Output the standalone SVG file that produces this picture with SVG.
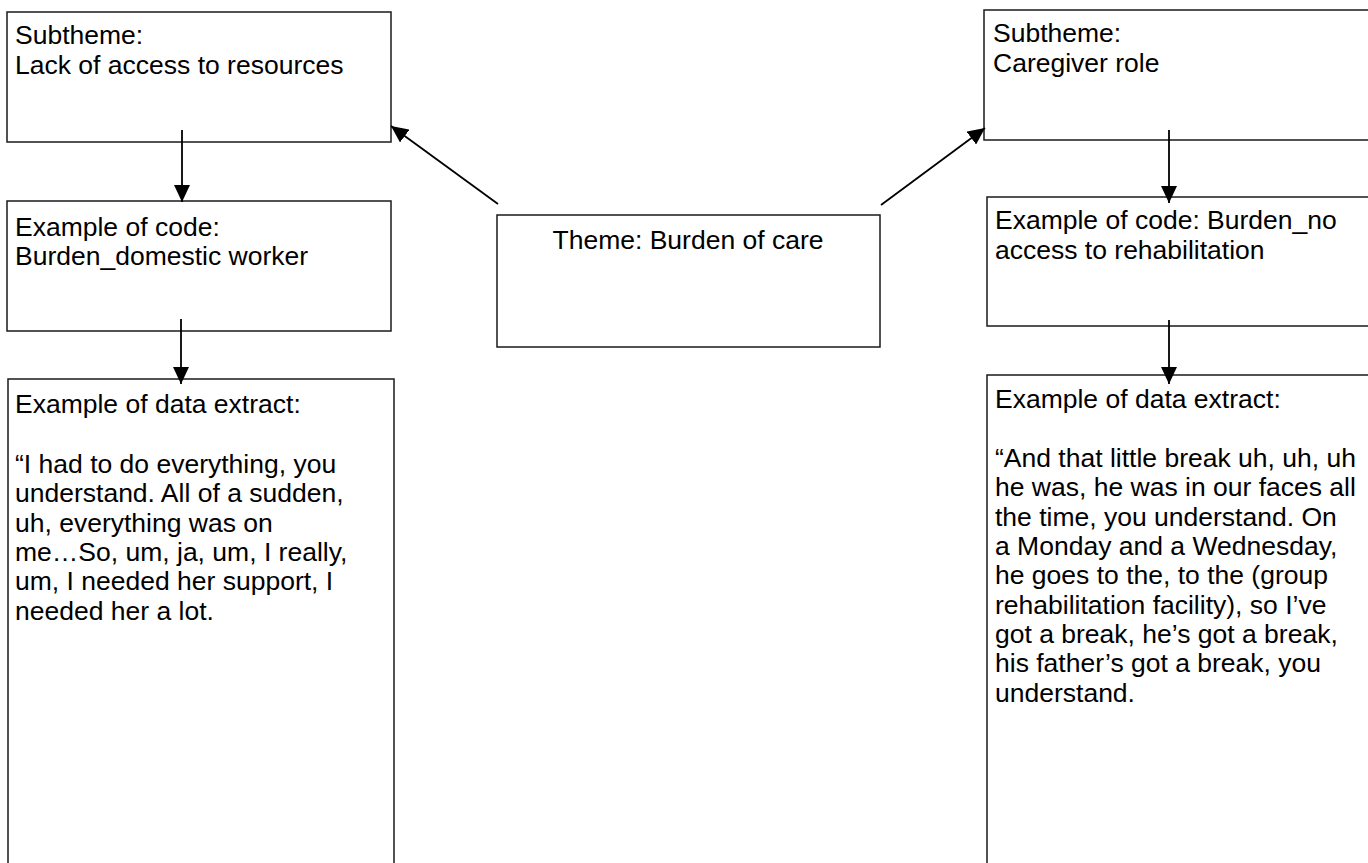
<svg xmlns="http://www.w3.org/2000/svg" width="1368" height="863" viewBox="0 0 1368 863">
<style>
.box{fill:#fff;stroke:#1a1a1a;stroke-width:1.5}
.t{font-family:"Liberation Sans",Arial,sans-serif;font-size:26.5px;fill:#000}
.c{stroke:#000;stroke-width:1.8;fill:none;marker-end:url(#ah)}
</style>
<defs>
<marker id="ah" viewBox="0 0 17 16" refX="17" refY="8" markerWidth="17" markerHeight="16" markerUnits="userSpaceOnUse" orient="auto">
<path d="M0,0 L17,8 L0,16 Z" fill="#000"/>
</marker>
</defs>
<rect width="1368" height="863" fill="#fff"/>
<g id="n-sub1">
<rect class="box" x="7" y="12" width="384" height="130"/>
<text class="t" x="15" y="44">Subtheme:</text>
<text class="t" x="15" y="74">Lack of access to resources</text>
</g>
<g id="n-code1">
<rect class="box" x="7" y="201" width="384" height="130"/>
<text class="t" x="15" y="236">Example of code:</text>
<text class="t" x="15" y="265">Burden_domestic worker</text>
</g>
<g id="n-data1">
<rect class="box" x="8" y="379" width="386" height="500"/>
<text class="t" x="15" y="413">Example of data extract:</text>
<text class="t" x="15" y="473">“I had to do everything, you</text>
<text class="t" x="15" y="502">understand. All of a sudden,</text>
<text class="t" x="15" y="532">uh, everything was on</text>
<text class="t" x="15" y="561">me…So, um, ja, um, I really,</text>
<text class="t" x="15" y="590">um, I needed her support, I</text>
<text class="t" x="15" y="620">needed her a lot.</text>
</g>
<g id="n-theme">
<rect class="box" x="497" y="215" width="383" height="132"/>
<text class="t" x="688" y="249" text-anchor="middle">Theme: Burden of care</text>
</g>
<g id="n-sub2">
<rect class="box" x="984" y="10" width="390" height="130"/>
<text class="t" x="993" y="42">Subtheme:</text>
<text class="t" x="993" y="72">Caregiver role</text>
</g>
<g id="n-code2">
<rect class="box" x="987" y="197" width="390" height="129"/>
<text class="t" x="995" y="229">Example of code: Burden_no</text>
<text class="t" x="995" y="259">access to rehabilitation</text>
</g>
<g id="n-data2">
<rect class="box" x="987" y="375" width="390" height="500"/>
<text class="t" x="995" y="408">Example of data extract:</text>
<text class="t" x="995" y="467">“And that little break uh, uh, uh</text>
<text class="t" x="995" y="496">he was, he was in our faces all</text>
<text class="t" x="995" y="526">the time, you understand. On</text>
<text class="t" x="995" y="555">a Monday and a Wednesday,</text>
<text class="t" x="995" y="584">he goes to the, to the (group</text>
<text class="t" x="995" y="614">rehabilitation facility), so I’ve</text>
<text class="t" x="995" y="643">got a break, he’s got a break,</text>
<text class="t" x="995" y="672">his father’s got a break, you</text>
<text class="t" x="995" y="702">understand.</text>
</g>
<g id="connectors">
<line class="c" x1="182" y1="130" x2="182" y2="202"/>
<line class="c" x1="181" y1="319" x2="181" y2="384"/>
<line class="c" x1="498" y1="204" x2="391" y2="126"/>
<line class="c" x1="881" y1="205" x2="985" y2="128"/>
<line class="c" x1="1169" y1="130" x2="1169" y2="203"/>
<line class="c" x1="1169" y1="320" x2="1169" y2="384"/>
</g>
</svg>
